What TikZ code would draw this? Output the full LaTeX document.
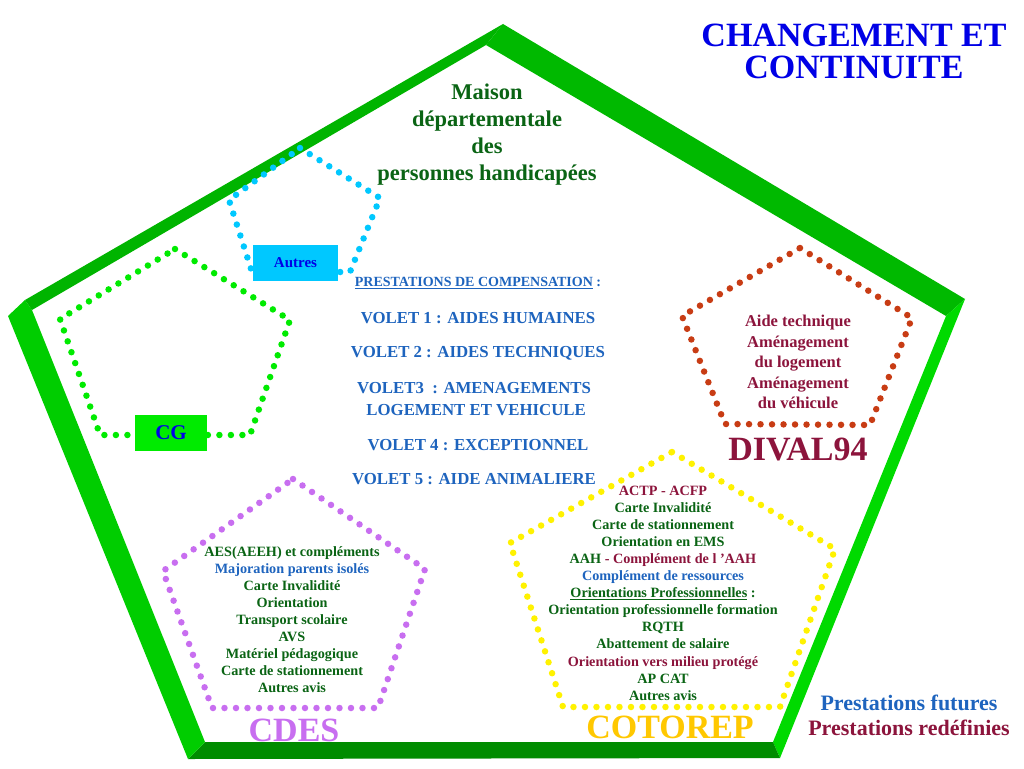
\documentclass[tikz,border=0pt]{standalone}
\usepackage{fontspec}
\setmainfont{Liberation Serif}
\definecolor{titre}{RGB}{0,0,230}
\definecolor{futur}{RGB}{30,100,190}
\definecolor{redef}{RGB}{140,20,60}
\definecolor{vert}{RGB}{10,100,20}
\definecolor{violet}{RGB}{200,110,240}
\definecolor{jaune}{RGB}{255,242,0}
\definecolor{orcotorep}{RGB}{255,200,0}
\definecolor{rouille}{RGB}{200,60,20}
\definecolor{vertcg}{RGB}{0,235,0}
\definecolor{ciel}{RGB}{0,200,255}
\newcommand{\taille}[2]{\fontsize{#1}{#2}\selectfont}
\begin{document}
\begin{tikzpicture}[x=1pt,y=-1pt,
        pointille/.style={line width=6.5pt,line cap=round,
            dash pattern=on 0pt off 11.5pt},
        texte/.style={inner sep=0pt,align=center},
        etiquette/.style={inner sep=0pt,minimum width=#1}]
\useasboundingbox[fill=white] (0,0) rectangle (1024,768);

\coordinate (A) at (503,24);
\coordinate (B) at (965,299);
\coordinate (C) at (780,758);
\coordinate (D) at (188,759);
\coordinate (E1) at (25,300);
\coordinate (E2) at (8,316);
\coordinate (a) at (486,45);
\coordinate (b) at (946,316);
\coordinate (c) at (773,742);
\coordinate (d) at (205,742);
\coordinate (e) at (32,310);

\fill[color={rgb,255:red,0;green,185;blue,0}] (A) -- (B) -- (b) -- (a) -- cycle;
\fill[color={rgb,255:red,0;green,218;blue,0}] (b) -- (B) -- (C) -- (c) -- cycle;
\fill[color={rgb,255:red,0;green,140;blue,0}] (d) -- (c) -- (C) -- (D) -- cycle;
\fill[color={rgb,255:red,0;green,205;blue,0}] (e) -- (E1) -- (E2) -- (D) -- (d) -- cycle;
\fill[color={rgb,255:red,0;green,180;blue,0}] (A) -- (a) -- (e) -- (E1) -- cycle;

\draw[pointille,color=ciel] (300,148) -- (380,198) -- (350,272) -- (252,272) -- (229,200) -- cycle;
\draw[pointille,color=vertcg] (175,249) -- (290,320) -- (250,435) -- (100,435) -- (60,319) -- cycle;
\draw[pointille,color=rouille] (800,248) -- (912,318) -- (870,425) -- (725,424) -- (682,316) -- cycle;
\draw[pointille,color=violet] (293,479) -- (425,569) -- (378,708) -- (212,708) -- (163,571) -- cycle;
\draw[pointille,color=jaune] (672,452) -- (835,549) -- (780,707) -- (563,707) -- (510,543) -- cycle;

\node[etiquette=85pt,minimum height=36pt,fill=ciel,text=titre,font=\bfseries\taille{15}{17}]
    (autres) at (295.5,263) {Autres};
\node[etiquette=72pt,minimum height=36pt,fill=vertcg,text=titre,font=\bfseries\taille{21}{24}]
    (cg) at (171,433) {CG};

\node[texte,text=titre,font=\bfseries\taille{34}{32}] (titre) at (854,51)
    {CHANGEMENT ET\\CONTINUITE};
\node[texte,text=vert,font=\bfseries\taille{22.5}{27}] (mdph) at (487,135)
    {Maison\\départementale\\des\\personnes handicapées};

\node[texte,text=futur,font=\bfseries\taille{14}{17}] (pcomp) at (478,283)
    {\underline{PRESTATIONS DE COMPENSATION} :};
\node[texte,text=futur,font=\bfseries\taille{16.8}{20}] (volet1) at (478,318)
    {VOLET 1 : AIDES HUMAINES};
\node[texte,text=futur,font=\bfseries\taille{16.8}{20}] (volet2) at (478,353)
    {VOLET 2 : AIDES TECHNIQUES};
\node[texte,text=futur,font=\bfseries\taille{16.8}{22}] (volet3) at (474,399)
    {VOLET3 \ : AMENAGEMENTS\\ \ LOGEMENT ET VEHICULE};
\node[texte,text=futur,font=\bfseries\taille{16.8}{20}] (volet4) at (478,445)
    {VOLET 4 : EXCEPTIONNEL};
\node[texte,text=futur,font=\bfseries\taille{16.8}{20}] (volet5) at (474,479)
    {VOLET 5 : AIDE ANIMALIERE};

\node[texte,text=redef,font=\bfseries\taille{16.5}{20.5}] (listedival) at (798,362)
    {Aide technique\\Aménagement\\ du logement\\Aménagement\\ du véhicule};
\node[texte,text=redef,font=\bfseries\taille{34}{36}] (dival) at (798,449) {DIVAL94};

\node[texte,text=vert,font=\bfseries\taille{14.2}{17}] (listecdes) at (292,620)
    {AES(AEEH) et compléments\\
     \textcolor{futur}{Majoration parents isolés}\\
     Carte Invalidité\\Orientation\\Transport scolaire\\AVS\\
     Matériel pédagogique\\Carte de stationnement\\Autres avis};
\node[texte,text=violet,font=\bfseries\taille{34}{36}] (cdes) at (294,730) {CDES};

\node[texte,text=vert,font=\bfseries\taille{14.2}{17.1}] (listecotorep) at (663,593)
    {\textcolor{redef}{ACTP - ACFP}\\
     Carte Invalidité\\Carte de stationnement\\Orientation en EMS\\
     AAH \textcolor{redef}{ - Complément de l ’AAH}\\
     \textcolor{futur}{Complément de ressources}\\
     \underline{Orientations Professionnelles} :\\
     Orientation professionnelle formation\\RQTH\\Abattement de salaire\\
     \textcolor{redef}{Orientation vers milieu protégé}\\
     AP CAT\\Autres avis};
\node[texte,text=orcotorep,font=\bfseries\taille{34}{36}] (cotorep) at (670,727) {COTOREP};

\node[texte,font=\bfseries\taille{22}{25}] (legende) at (909,715)
    {\textcolor{futur}{Prestations futures}\\\textcolor{redef}{Prestations redéfinies}};
\end{tikzpicture}
\end{document}
